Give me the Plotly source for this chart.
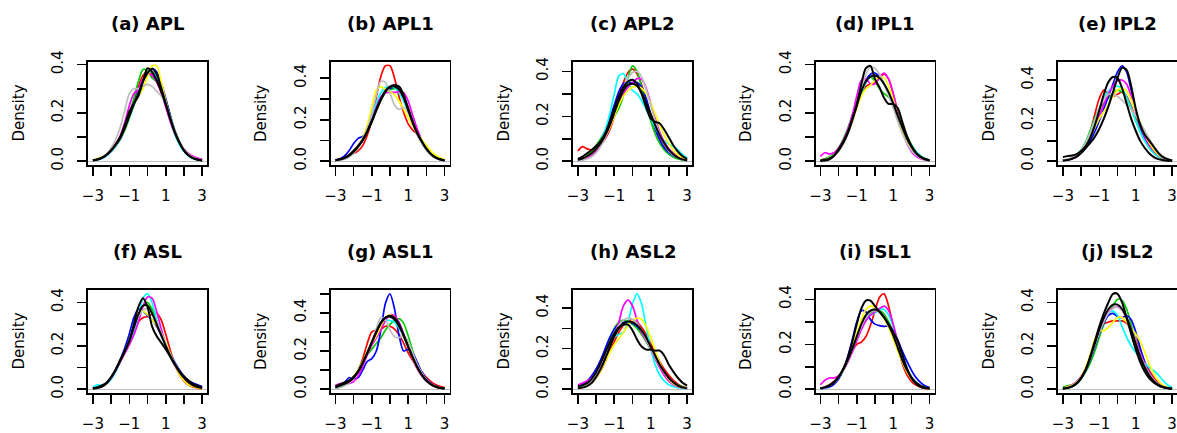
import plotly.graph_objects as go

# ---------------- data ----------------
X_GRID = [-3.0, -2.75, -2.5, -2.25, -2.0, -1.75, -1.5, -1.25, -1.0, -0.75, -0.5, -0.25,
          0.0, 0.25, 0.5, 0.75, 1.0, 1.25, 1.5, 1.75, 2.0, 2.25, 2.5, 2.75, 3.0]

PANEL_TITLES = ["(a) APL", "(b) APL1", "(c) APL2", "(d) IPL1", "(e) IPL2",
                "(f) ASL", "(g) ASL1", "(h) ASL2", "(i) ISL1", "(j) ISL2"]

X_TICKS = [-3, -2, -1, 0, 1, 2, 3]
X_TICK_LABELS = ["\u22123", "", "\u22121", "", "1", "", "3"]
Y_TICKS = [0.0, 0.1, 0.2, 0.3, 0.4, 0.5]
Y_TICK_LABELS = ["0.0", "", "0.2", "", "0.4", ""]

SERIES_ORDER = ["red", "green", "blue", "cyan", "magenta", "yellow", "gray", "black2", "black"]

APL = dict(
    black=[.004,.008,.015,.027,.046,.07,.1,.15,.205,.24,.27,.33,.385,.37,.335,.29,.235,.175,.12,.078,.045,.025,.013,.007,.003],
    black2=[.003,.007,.014,.026,.044,.067,.095,.135,.185,.235,.28,.33,.365,.383,.36,.305,.24,.178,.12,.077,.045,.025,.013,.006,.003],
    red=[.004,.008,.015,.027,.045,.068,.097,.14,.19,.25,.31,.355,.37,.36,.33,.285,.23,.172,.118,.077,.045,.025,.013,.007,.003],
    green=[.004,.008,.015,.027,.045,.068,.097,.14,.19,.26,.33,.38,.375,.345,.33,.3,.255,.19,.13,.082,.047,.026,.013,.007,.003],
    blue=[.003,.006,.012,.023,.04,.062,.09,.13,.18,.235,.29,.335,.365,.383,.37,.325,.26,.19,.125,.078,.044,.023,.012,.006,.003],
    cyan=[.002,.005,.011,.022,.04,.063,.09,.128,.175,.23,.285,.335,.365,.37,.345,.3,.235,.168,.11,.07,.04,.022,.011,.005,.002],
    magenta=[.003,.007,.014,.026,.045,.07,.105,.16,.23,.28,.3,.34,.36,.355,.33,.285,.225,.165,.115,.078,.05,.032,.02,.013,.008],
    yellow=[.006,.01,.017,.028,.045,.066,.093,.13,.18,.235,.27,.3,.35,.395,.395,.33,.25,.18,.12,.078,.047,.027,.015,.008,.004],
    gray=[.003,.007,.015,.03,.055,.09,.14,.21,.28,.3,.3,.31,.318,.31,.29,.27,.235,.185,.13,.085,.05,.028,.015,.007,.003],
)

APL1 = dict(
    black=[.004,.008,.015,.027,.045,.07,.1,.14,.19,.245,.295,.335,.36,.368,.36,.32,.255,.19,.135,.095,.06,.035,.018,.009,.004],
    black2=[.005,.01,.017,.03,.05,.075,.105,.145,.195,.25,.3,.34,.358,.36,.345,.305,.245,.185,.135,.095,.06,.034,.018,.009,.004],
    red=[.004,.01,.02,.03,.037,.05,.075,.125,.2,.31,.41,.46,.46,.4,.31,.235,.18,.15,.13,.1,.065,.035,.017,.008,.003],
    green=[.004,.008,.016,.028,.047,.072,.1,.14,.19,.245,.295,.33,.345,.35,.345,.31,.255,.195,.14,.098,.062,.036,.019,.009,.004],
    blue=[.006,.012,.025,.05,.085,.11,.12,.145,.2,.26,.305,.335,.35,.36,.35,.31,.25,.185,.13,.09,.055,.03,.015,.007,.003],
    cyan=[.004,.008,.015,.027,.045,.07,.105,.155,.215,.28,.33,.355,.36,.355,.33,.29,.24,.18,.13,.09,.055,.03,.016,.008,.004],
    magenta=[.004,.008,.015,.027,.045,.07,.1,.145,.2,.26,.31,.33,.332,.332,.335,.33,.29,.22,.155,.1,.06,.033,.017,.008,.004],
    yellow=[.004,.008,.015,.027,.045,.07,.11,.175,.26,.345,.36,.345,.335,.32,.29,.25,.21,.17,.135,.105,.075,.05,.03,.017,.009],
    gray=[.002,.005,.01,.02,.038,.065,.105,.16,.23,.32,.385,.38,.33,.27,.25,.26,.235,.18,.125,.085,.05,.028,.014,.007,.003],
)

APL2 = dict(
    black=[.01,.02,.035,.05,.068,.09,.125,.175,.235,.29,.33,.355,.363,.345,.3,.24,.19,.175,.168,.14,.105,.07,.042,.022,.01],
    black2=[.006,.012,.022,.035,.055,.08,.115,.16,.215,.27,.315,.34,.345,.335,.305,.26,.21,.16,.115,.08,.05,.03,.016,.008,.004],
    red=[.045,.065,.055,.05,.06,.075,.1,.14,.2,.28,.35,.395,.41,.39,.34,.27,.2,.14,.095,.062,.04,.025,.014,.007,.003],
    green=[.004,.01,.025,.045,.07,.1,.135,.17,.2,.235,.29,.37,.425,.4,.33,.25,.18,.12,.078,.05,.03,.018,.01,.005,.002],
    blue=[.003,.007,.015,.03,.055,.09,.135,.19,.25,.31,.345,.35,.35,.35,.33,.28,.21,.145,.095,.06,.038,.024,.015,.008,.004],
    cyan=[.004,.009,.018,.032,.055,.09,.14,.21,.3,.38,.39,.35,.315,.3,.27,.23,.19,.15,.115,.09,.075,.065,.05,.03,.014],
    magenta=[.003,.007,.014,.026,.045,.072,.105,.15,.2,.255,.3,.33,.35,.368,.365,.325,.26,.19,.13,.085,.055,.035,.02,.01,.005],
    yellow=[.006,.012,.022,.036,.055,.08,.11,.15,.2,.25,.29,.315,.33,.333,.325,.3,.26,.21,.16,.115,.078,.048,.027,.014,.006],
    gray=[.002,.005,.01,.02,.037,.065,.105,.16,.22,.28,.33,.37,.395,.4,.375,.32,.25,.18,.12,.075,.045,.026,.014,.007,.003],
)

IPL1 = dict(
    black=[.001,.003,.008,.022,.05,.08,.12,.175,.234,.32,.385,.395,.34,.305,.262,.237,.237,.22,.163,.106,.064,.035,.018,.008,.003],
    black2=[.003,.006,.012,.024,.045,.075,.115,.17,.23,.29,.33,.35,.355,.345,.32,.285,.24,.19,.14,.095,.06,.034,.018,.009,.004],
    red=[.005,.01,.017,.028,.047,.075,.115,.165,.225,.28,.31,.32,.325,.345,.36,.34,.28,.205,.14,.09,.055,.03,.016,.008,.004],
    green=[.004,.009,.018,.032,.055,.09,.135,.19,.25,.3,.335,.35,.33,.3,.28,.265,.24,.2,.15,.105,.068,.04,.022,.011,.005],
    blue=[.003,.007,.014,.026,.045,.075,.115,.17,.23,.29,.335,.36,.365,.35,.32,.28,.23,.175,.125,.085,.055,.032,.017,.008,.004],
    cyan=[.004,.008,.015,.028,.048,.078,.118,.17,.225,.28,.325,.35,.355,.345,.32,.285,.24,.19,.14,.098,.065,.04,.022,.011,.005],
    magenta=[.02,.035,.03,.035,.055,.085,.13,.19,.27,.335,.34,.32,.32,.35,.365,.34,.28,.2,.13,.075,.04,.02,.01,.005,.002],
    yellow=[.003,.007,.014,.026,.045,.075,.115,.165,.22,.27,.3,.315,.335,.35,.345,.31,.255,.19,.13,.085,.052,.03,.016,.008,.004],
    gray=[.002,.005,.01,.022,.04,.07,.11,.165,.23,.3,.36,.39,.385,.36,.32,.27,.22,.165,.115,.075,.045,.025,.013,.006,.003],
)

IPL2 = dict(
    black=[.02,.025,.028,.035,.05,.075,.115,.175,.25,.33,.39,.415,.41,.36,.285,.21,.15,.1,.065,.038,.02,.01,.005,.002,.001],
    black2=[.003,.006,.012,.022,.04,.065,.09,.12,.16,.21,.27,.34,.41,.46,.45,.37,.26,.18,.13,.1,.07,.04,.02,.01,.004],
    red=[.005,.008,.012,.022,.045,.085,.145,.23,.31,.35,.33,.32,.33,.34,.32,.27,.21,.155,.11,.075,.048,.028,.015,.007,.003],
    green=[.004,.008,.016,.03,.055,.095,.15,.21,.26,.285,.31,.335,.35,.34,.31,.26,.2,.145,.1,.065,.04,.023,.012,.006,.003],
    blue=[.003,.006,.012,.022,.04,.065,.1,.145,.2,.26,.32,.38,.44,.47,.44,.35,.25,.17,.11,.07,.042,.025,.014,.007,.003],
    cyan=[.004,.008,.016,.03,.055,.09,.14,.2,.26,.31,.345,.365,.37,.355,.315,.26,.2,.145,.1,.065,.04,.024,.013,.006,.003],
    magenta=[.004,.008,.015,.028,.05,.08,.12,.17,.225,.28,.33,.37,.395,.4,.38,.32,.245,.175,.12,.08,.05,.03,.016,.008,.004],
    yellow=[.004,.008,.015,.028,.05,.08,.12,.165,.21,.245,.28,.32,.35,.36,.345,.305,.25,.19,.135,.09,.055,.032,.017,.008,.004],
    gray=[.005,.01,.018,.032,.055,.09,.14,.2,.26,.305,.33,.33,.32,.3,.28,.255,.225,.19,.15,.11,.075,.045,.025,.012,.005],
)

ASL = dict(
    black=[.002,.005,.012,.027,.055,.09,.135,.175,.22,.3,.38,.42,.38,.29,.245,.215,.185,.15,.115,.085,.06,.04,.025,.016,.008],
    black2=[.004,.009,.017,.03,.055,.09,.13,.175,.225,.285,.345,.385,.385,.35,.3,.25,.2,.155,.115,.08,.053,.032,.018,.01,.005],
    red=[.004,.008,.016,.03,.055,.09,.13,.17,.215,.265,.31,.33,.335,.345,.35,.32,.255,.18,.115,.068,.038,.02,.01,.005,.002],
    green=[.004,.008,.016,.03,.055,.09,.13,.175,.22,.275,.335,.385,.4,.37,.315,.255,.2,.15,.11,.078,.052,.032,.018,.01,.005],
    blue=[.004,.008,.016,.03,.055,.09,.135,.19,.255,.33,.37,.36,.34,.32,.29,.25,.205,.165,.125,.09,.06,.04,.028,.02,.012],
    cyan=[.01,.02,.018,.025,.045,.08,.125,.17,.21,.26,.33,.42,.44,.4,.32,.25,.2,.155,.115,.082,.055,.034,.02,.011,.005],
    magenta=[.003,.007,.014,.027,.05,.085,.125,.165,.205,.25,.31,.38,.425,.42,.36,.28,.21,.155,.11,.075,.05,.03,.018,.01,.005],
    yellow=[.004,.008,.016,.03,.055,.09,.13,.175,.225,.29,.345,.36,.345,.32,.295,.26,.215,.165,.115,.07,.04,.022,.012,.006,.003],
    gray=[.004,.008,.016,.03,.055,.09,.13,.175,.22,.28,.335,.365,.37,.35,.31,.26,.21,.16,.12,.085,.058,.037,.022,.012,.006],
)

ASL1 = dict(
    black=[.015,.025,.035,.045,.065,.095,.14,.19,.245,.3,.345,.375,.385,.375,.34,.285,.225,.165,.115,.075,.045,.025,.013,.006,.003],
    black2=[.01,.018,.028,.04,.06,.09,.135,.19,.245,.3,.35,.375,.38,.365,.33,.28,.22,.165,.115,.075,.045,.026,.014,.007,.003],
    red=[.01,.018,.028,.04,.06,.1,.16,.24,.3,.31,.315,.33,.33,.315,.285,.24,.19,.15,.12,.09,.062,.04,.025,.015,.008],
    green=[.005,.01,.02,.035,.06,.1,.145,.18,.21,.24,.27,.31,.34,.36,.37,.345,.28,.2,.13,.08,.046,.025,.013,.006,.003],
    blue=[.005,.015,.035,.06,.055,.06,.1,.145,.16,.2,.31,.45,.5,.42,.28,.2,.21,.19,.14,.09,.055,.03,.015,.007,.003],
    cyan=[.008,.015,.025,.04,.062,.095,.14,.19,.245,.3,.34,.36,.36,.35,.32,.275,.22,.165,.115,.075,.045,.026,.014,.007,.003],
    magenta=[.02,.03,.03,.03,.04,.07,.12,.18,.23,.27,.31,.36,.39,.385,.35,.29,.22,.155,.105,.068,.042,.025,.014,.007,.003],
    yellow=[.012,.02,.03,.045,.068,.1,.145,.195,.24,.28,.33,.375,.39,.375,.335,.28,.22,.16,.11,.072,.044,.025,.013,.006,.003],
    gray=[.005,.01,.018,.032,.055,.09,.135,.19,.25,.32,.375,.365,.31,.275,.27,.28,.25,.19,.13,.085,.05,.028,.015,.007,.003],
)

ASL2 = dict(
    black=[.015,.02,.03,.05,.085,.13,.18,.23,.275,.305,.318,.318,.29,.245,.21,.195,.195,.19,.19,.165,.12,.085,.055,.032,.018],
    black2=[.004,.008,.015,.03,.06,.1,.15,.205,.26,.3,.325,.334,.33,.315,.29,.255,.21,.165,.12,.085,.055,.033,.018,.009,.004],
    red=[.005,.01,.018,.032,.055,.09,.135,.185,.235,.28,.315,.335,.34,.33,.305,.27,.225,.18,.135,.098,.068,.043,.025,.013,.006],
    green=[.01,.016,.027,.045,.075,.12,.18,.245,.3,.33,.34,.335,.32,.3,.27,.235,.195,.15,.11,.075,.048,.03,.02,.012,.006],
    blue=[.012,.022,.04,.065,.1,.145,.2,.255,.295,.32,.33,.33,.325,.31,.285,.25,.205,.16,.115,.078,.048,.028,.015,.008,.004],
    cyan=[.01,.02,.03,.045,.07,.11,.16,.215,.255,.27,.28,.33,.42,.47,.42,.31,.2,.12,.07,.04,.022,.012,.007,.004,.002],
    magenta=[.02,.03,.04,.055,.08,.115,.16,.21,.26,.33,.41,.44,.41,.34,.28,.24,.2,.15,.105,.068,.04,.022,.012,.006,.003],
    yellow=[.005,.01,.018,.032,.055,.09,.135,.18,.22,.25,.28,.315,.34,.35,.345,.31,.255,.19,.13,.082,.048,.026,.014,.007,.003],
    gray=[.008,.014,.024,.04,.068,.108,.16,.22,.275,.315,.34,.35,.345,.325,.29,.245,.2,.155,.115,.08,.052,.031,.017,.009,.004],
)

ISL1 = dict(
    black=[.004,.008,.016,.03,.055,.09,.14,.21,.29,.36,.395,.395,.37,.345,.32,.29,.255,.215,.155,.095,.05,.024,.011,.005,.002],
    black2=[.004,.009,.018,.033,.055,.088,.13,.18,.235,.29,.33,.35,.355,.345,.32,.285,.24,.185,.13,.087,.053,.03,.016,.008,.004],
    red=[.005,.01,.02,.035,.055,.085,.125,.17,.2,.21,.235,.285,.35,.41,.425,.37,.28,.19,.115,.065,.035,.018,.009,.004,.002],
    green=[.003,.007,.014,.028,.05,.082,.122,.172,.225,.275,.315,.34,.35,.35,.335,.3,.25,.19,.135,.09,.055,.03,.016,.008,.004],
    blue=[.002,.005,.01,.022,.045,.085,.145,.22,.3,.35,.345,.31,.29,.283,.28,.28,.26,.22,.17,.125,.085,.052,.03,.015,.007],
    cyan=[.004,.008,.016,.03,.052,.085,.125,.175,.23,.285,.32,.33,.34,.355,.355,.33,.28,.21,.145,.09,.052,.028,.014,.007,.003],
    magenta=[.02,.04,.05,.05,.06,.085,.12,.165,.215,.265,.305,.33,.345,.36,.37,.35,.29,.21,.135,.08,.045,.024,.012,.006,.003],
    yellow=[.004,.008,.016,.03,.055,.09,.135,.19,.25,.31,.355,.37,.365,.345,.315,.275,.225,.17,.12,.078,.046,.025,.013,.006,.003],
    gray=[.004,.008,.016,.03,.052,.085,.125,.175,.23,.28,.32,.345,.35,.345,.325,.29,.245,.19,.135,.09,.055,.03,.016,.008,.004],
)

ISL2 = dict(
    black=[.002,.005,.012,.025,.05,.09,.15,.22,.29,.35,.4,.44,.44,.4,.33,.255,.185,.125,.08,.05,.03,.017,.009,.004,.002],
    black2=[.003,.006,.013,.027,.052,.09,.145,.21,.275,.33,.37,.39,.39,.37,.33,.275,.21,.15,.1,.063,.037,.02,.01,.005,.002],
    red=[.004,.008,.016,.03,.055,.095,.15,.215,.27,.3,.31,.315,.315,.315,.305,.275,.23,.175,.125,.085,.053,.03,.016,.008,.004],
    green=[.01,.015,.02,.03,.05,.08,.12,.175,.24,.3,.35,.385,.415,.41,.37,.3,.22,.15,.097,.06,.035,.02,.01,.005,.002],
    blue=[.003,.006,.013,.027,.05,.085,.135,.195,.255,.305,.34,.35,.335,.33,.34,.32,.265,.19,.125,.075,.042,.022,.011,.005,.002],
    cyan=[.003,.006,.012,.025,.05,.09,.15,.22,.28,.32,.35,.36,.34,.29,.24,.2,.17,.145,.12,.1,.085,.065,.04,.02,.008],
    magenta=[.004,.01,.02,.035,.06,.095,.145,.205,.265,.315,.355,.375,.38,.365,.33,.28,.22,.165,.115,.075,.045,.025,.013,.006,.003],
    yellow=[.005,.01,.018,.032,.058,.1,.16,.23,.27,.27,.285,.31,.33,.33,.31,.28,.255,.22,.17,.115,.07,.038,.018,.008,.003],
    gray=[.003,.007,.015,.03,.055,.09,.14,.2,.26,.31,.35,.372,.378,.365,.33,.28,.22,.16,.11,.07,.042,.023,.012,.006,.003],
)

PANELS = [APL, APL1, APL2, IPL1, IPL2, ASL, ASL1, ASL2, ISL1, ISL2]

# ---------------- styling ----------------
COLORS = {"red": "#FF0000", "green": "#00CD00", "blue": "#0000FF", "cyan": "#00FFFF",
          "magenta": "#FF00FF", "yellow": "#FFFF00", "gray": "#BEBEBE",
          "black2": "#000000", "black": "#000000"}
WIDTHS = {k: (2.0 if k.startswith("black") else 1.7) for k in COLORS}

W, H = 1177, 433
COL_LEFT = [88, 330.5, 573, 815.5, 1058]
ROW_TOP = [62, 290]
BOX_W, BOX_H = 119, 103
FONT = "DejaVu Sans"

fig = go.Figure()
layout = dict(
    width=W, height=H, autosize=False, margin=dict(l=0, r=0, t=0, b=0, pad=0, autoexpand=False),
    paper_bgcolor="white", plot_bgcolor="white", showlegend=False,
    font=dict(family=FONT, size=15, color="black"),
)
annotations = []

for i, (panel, title) in enumerate(zip(PANELS, PANEL_TITLES)):
    r, c = divmod(i, 5)
    left, top = COL_LEFT[c], ROW_TOP[r]
    xd = [left / W, min(1.0, (left + BOX_W) / W)]
    yd = [1 - (top + BOX_H) / H, 1 - top / H]
    sfx = "" if i == 0 else str(i + 1)
    xa, ya = "x" + sfx, "y" + sfx

    ymax = max(max(v) for v in panel.values())
    pad = 0.04 * ymax

    for key in SERIES_ORDER:
        fig.add_trace(go.Scatter(
            x=X_GRID, y=panel[key], mode="lines", xaxis=xa, yaxis=ya,
            line=dict(color=COLORS[key], width=WIDTHS[key], shape="spline", smoothing=0.8),
            hoverinfo="skip"))

    common = dict(showgrid=False, showline=True, mirror=True, linecolor="black", linewidth=1.6,
                  ticks="outside", ticklen=9, tickwidth=1.6, tickcolor="black", automargin=False,
                  tickfont=dict(family=FONT, size=15, color="black"))
    layout["xaxis" + sfx] = dict(common, domain=xd, anchor=ya, range=[-3.27, 3.27],
                                 tickmode="array", tickvals=X_TICKS, ticktext=X_TICK_LABELS,
                                 zeroline=False, ticklabelstandoff=7)
    layout["yaxis" + sfx] = dict(common, domain=yd, anchor=xa, range=[-pad, ymax + pad],
                                 tickmode="array", tickvals=Y_TICKS, ticktext=Y_TICK_LABELS,
                                 tickangle=-90, zeroline=True, zerolinecolor="#BEBEBE",
                                 zerolinewidth=1.2, ticklabelstandoff=8)

    annotations.append(dict(text="<b>" + title + "</b>", xref="paper", yref="paper",
                            x=(left + BOX_W / 2) / W, y=1 - (23 if r == 0 else 251) / H,
                            xanchor="center", yanchor="middle", showarrow=False,
                            font=dict(family=FONT, size=18, color="black")))
    annotations.append(dict(text="Density", xref="paper", yref="paper",
                            x=(left - 70) / W, y=1 - (top + BOX_H / 2) / H,
                            xanchor="center", yanchor="middle", textangle=-90, showarrow=False,
                            font=dict(family=FONT, size=15, color="black")))

layout["annotations"] = annotations
fig.update_layout(**layout)
fig.write_html("out.html", config={"displayModeBar": False, "staticPlot": True},
               post_script="document.body.style.margin='0';document.body.style.overflow='hidden';")
